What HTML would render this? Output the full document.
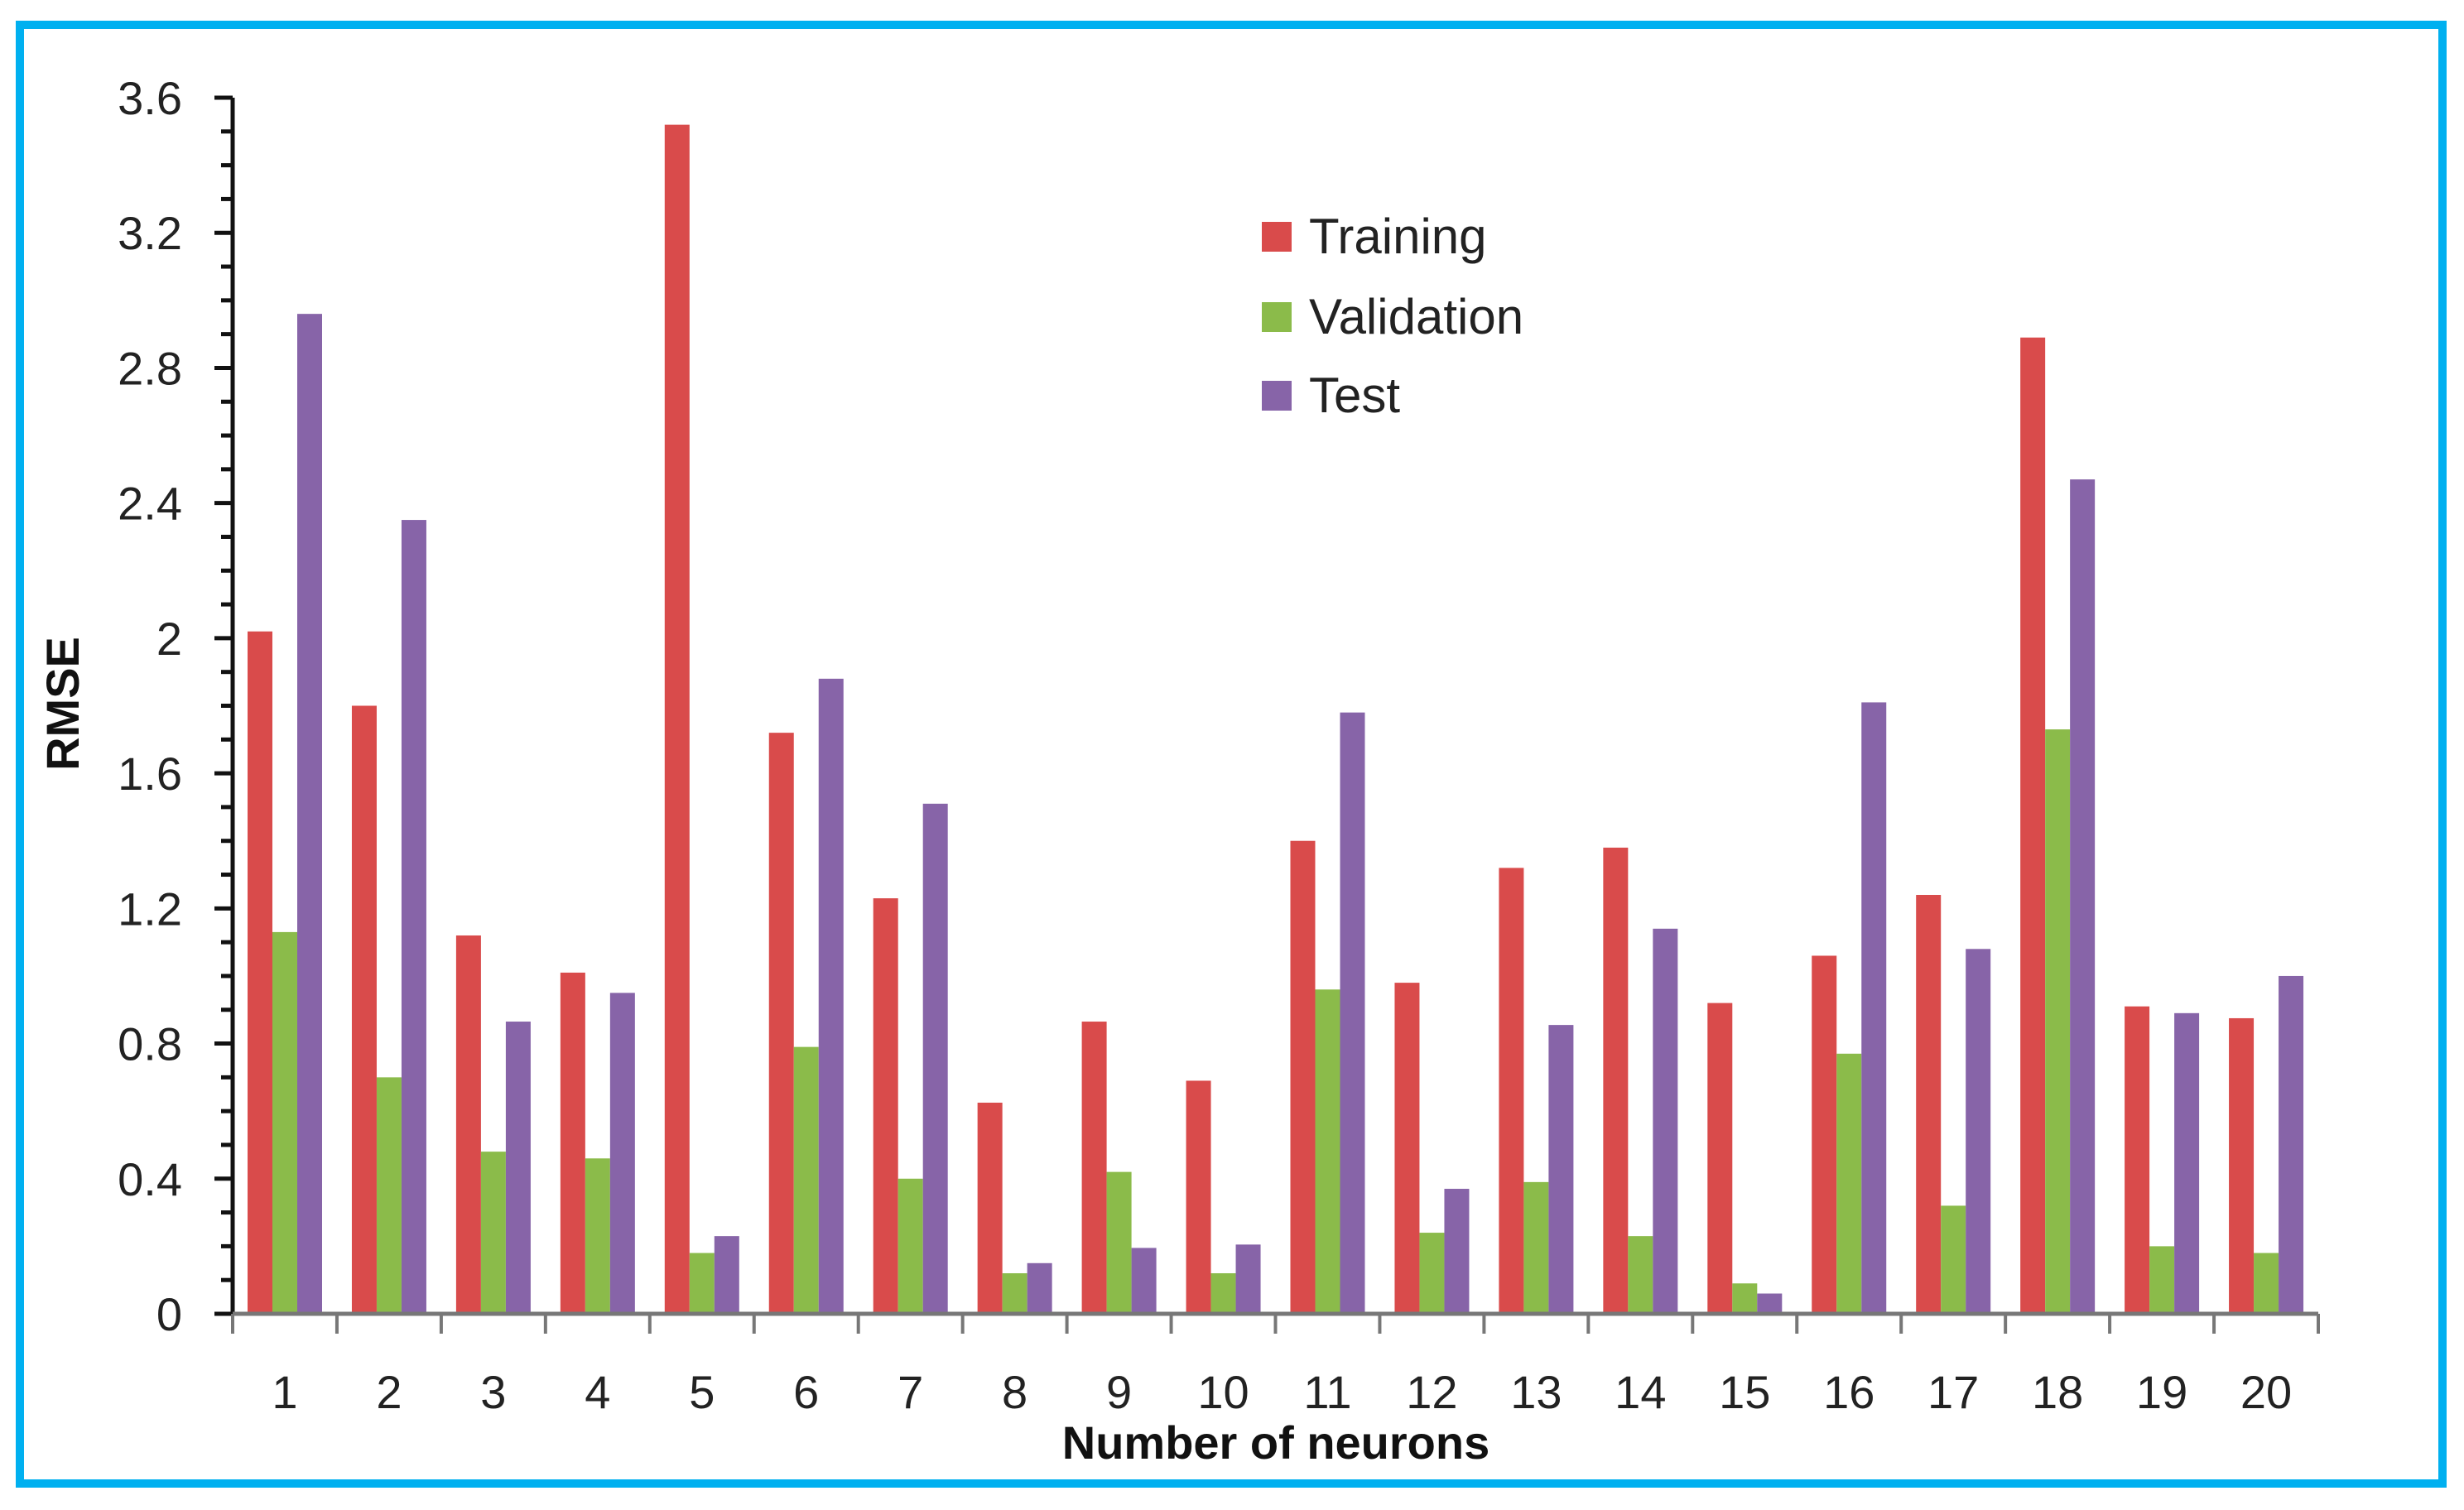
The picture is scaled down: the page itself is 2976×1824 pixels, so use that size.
<!DOCTYPE html>
<html><head><meta charset="utf-8"><style>
html,body{margin:0;padding:0;background:#fff;}
svg{display:block;font-family:"Liberation Sans",sans-serif;}
</style></head><body>
<svg id="chart" width="2976" height="1824" viewBox="0 0 2976 1824" xmlns="http://www.w3.org/2000/svg">
<rect x="24" y="30" width="2926" height="1762" fill="#fff" stroke="#00B0F0" stroke-width="10"/>
<g id="bars"></g>
<g id="axes"></g>
<text x="80" y="850" transform="rotate(-90 80 850)" text-anchor="middle" dominant-baseline="middle" font-size="56" font-weight="bold" fill="#111">RMSE</text>
<text x="1541" y="1762" text-anchor="middle" font-size="56" font-weight="bold" fill="#111">Number of neurons</text>
<g>
<g><rect x="1524" y="268" width="36" height="36" fill="#D94B4B"/><text x="1581" y="306" font-size="60" fill="#222">Training</text></g>
<g><rect x="1524" y="365" width="36" height="36" fill="#8BBB4A"/><text x="1581" y="403" font-size="60" fill="#222">Validation</text></g>
<g><rect x="1524" y="460" width="36" height="36" fill="#8764A8"/><text x="1581" y="498" font-size="60" fill="#222">Test</text></g>
</g>
</svg>
<script>
const categories = ["1","2","3","4","5","6","7","8","9","10","11","12","13","14","15","16","17","18","19","20"];
const training = [2.02,1.80,1.12,1.01,3.52,1.72,1.23,0.625,0.865,0.69,1.40,0.98,1.32,1.38,0.92,1.06,1.24,2.89,0.91,0.875];
const validation = [1.13,0.70,0.48,0.46,0.18,0.79,0.40,0.12,0.42,0.12,0.96,0.24,0.39,0.23,0.09,0.77,0.32,1.73,0.20,0.18];
const test = [2.96,2.35,0.865,0.95,0.23,1.88,1.51,0.15,0.195,0.205,1.78,0.37,0.855,1.14,0.06,1.81,1.08,2.47,0.89,1.0];
const yTicks = [0,0.4,0.8,1.2,1.6,2,2.4,2.8,3.2,3.6];
const yTickLabels = ["0","0.4","0.8","1.2","1.6","2","2.4","2.8","3.2","3.6"];

const NS="http://www.w3.org/2000/svg";
const X0=281, X1=2800, Y0=1587, Ytop=118, YMAX=3.6;
const yScale=v=>Y0-(v/YMAX)*(Y0-Ytop);
const groupW=(X1-X0)/categories.length;
const xGroup=i=>X0+i*groupW;
const barW=30, offset=18;
const series=[{d:training,c:"#D94B4B",n:"training"},{d:validation,c:"#8BBB4A",n:"validation"},{d:test,c:"#8764A8",n:"test"}];
const bars=document.getElementById('bars');
const axes=document.getElementById('axes');
function mk(t,a,p){const e=document.createElementNS(NS,t);for(const k in a)e.setAttribute(k,a[k]);p.appendChild(e);return e;}
series.forEach((s,si)=>{
  s.d.forEach((v,i)=>{
    const y=yScale(v);
    const r=mk('rect',{x:xGroup(i)+offset+si*barW,y:y,width:barW,height:Y0-y,fill:s.c},bars);
    
    
  });
});
const ya=mk('line',{x1:X0,y1:Ytop,x2:X0,y2:Y0,stroke:"#111","stroke-width":5},axes);


for(let k=0;k<=36;k++){
  const v=k*0.1, y=yScale(v), major=(k%4===0);
  mk('line',{x1:X0-(major?22:14),y1:y,x2:X0,y2:y,stroke:"#111","stroke-width":5},axes);
}
yTicks.forEach((v,i)=>{
  const t=mk('text',{x:220,y:yScale(v)+20,"text-anchor":"end","font-size":56,fill:"#222"},axes);
  t.textContent=yTickLabels[i];
  
  
});
const xa=mk('line',{x1:X0,y1:Y0,x2:X1,y2:Y0,stroke:"#777","stroke-width":5},axes);


for(let i=0;i<=categories.length;i++){
  mk('line',{x1:xGroup(i),y1:Y0,x2:xGroup(i),y2:Y0+24,stroke:"#777","stroke-width":4},axes);
}
categories.forEach((c,i)=>{
  const t=mk('text',{x:xGroup(i)+groupW/2,y:1701,"text-anchor":"middle","font-size":56,fill:"#222"},axes);
  t.textContent=c;
  
  
});
</script>
</body></html>
